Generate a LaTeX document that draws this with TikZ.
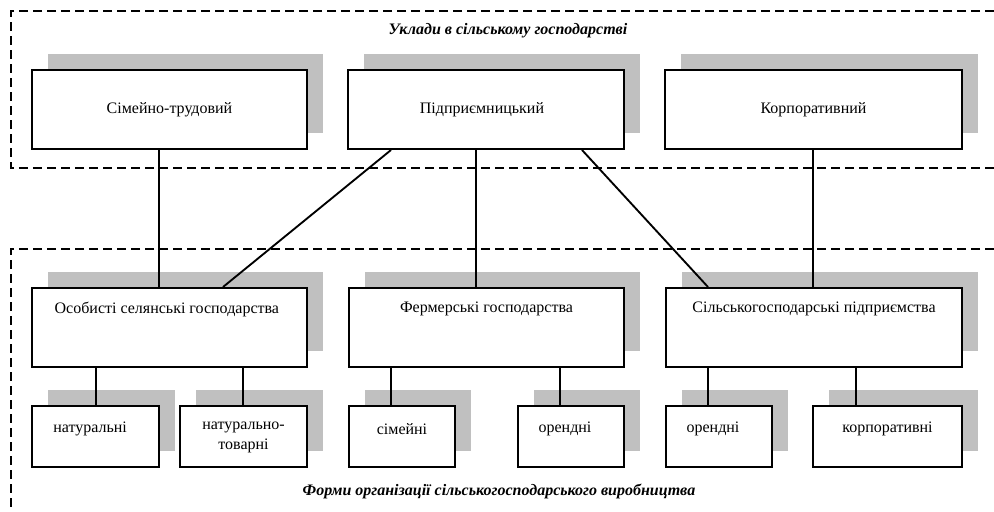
\documentclass[tikz,border=0pt]{standalone}
\usepackage{fontspec}
\setmainfont{Liberation Serif}
\usetikzlibrary{shadows,calc}
\definecolor{shade}{HTML}{C0C0C0}
\begin{document}
\begin{tikzpicture}[x=0.75pt,y=-0.75pt,
  font=\fontsize{12}{15}\selectfont,
  box/.style={draw, line width=1.5pt, fill=white, inner sep=0pt, align=center,
    drop shadow={shadow xshift=12pt, shadow yshift=12pt, fill=shade, opacity=1, draw=none}},
  bigbox/.style={box, minimum height=59.25pt},
  smallbox/.style={box, minimum height=45.75pt},
  lbl/.style={anchor=center, align=center, inner sep=0pt},
  conn/.style={line width=1.4pt},
  frame/.style={line width=1.4pt, dash pattern=on 6.5pt off 4pt},
  title/.style={font=\fontsize{12}{15}\selectfont\bfseries\itshape, inner sep=0pt}]
\useasboundingbox (0,0) rectangle (994,511);

% dashed frames
\draw[frame] (994,11) -- (11,11) -- (11,168) -- (994,168);
\draw[frame] (994,249) -- (11,249) -- (11,515);

% titles
\node[title] (tt) at (508,31) {Уклади в сільському господарстві};
\node[title] (bt) at (499,491) {Форми організації сільськогосподарського виробництва};

% top boxes
\node[bigbox, minimum width=206.25pt] (t1) at (169.5,109.5) {Сімейно-трудовий};
\node[bigbox, minimum width=207pt] (t2) at (486,109.5) {\hspace*{-6pt}Підприємницький};
\node[bigbox, minimum width=222.75pt] (t3) at (813.5,109.5) {Корпоративний};

% lower boxes
\node[bigbox, minimum width=206.25pt,
  label={[lbl, yshift=-16.5pt, xshift=-2pt]north:Особисті селянські господарства}] (l1) at (169.5,327.5) {};
\node[bigbox, minimum width=206.25pt,
  label={[lbl, yshift=-16.5pt]north:Фермерські господарства}] (l2) at (486.5,327.5) {};
\node[bigbox, minimum width=222pt,
  label={[lbl, yshift=-16.5pt]north:Сільськогосподарські підприємства}] (l3) at (814,327.5) {};

% small boxes
\node[smallbox, minimum width=95.25pt,
  label={[lbl, yshift=-18pt, xshift=-4pt]north:натуральні}] (s1) at (95.5,436.5) {};
\node[smallbox, minimum width=95.25pt,
  label={[lbl, yshift=-24pt]north:натурально-\\товарні}] (s2) at (243.5,436.5) {};
\node[smallbox, minimum width=79.5pt,
  label={[lbl, yshift=-18pt]north:сімейні}] (s3) at (402,436.5) {};
\node[smallbox, minimum width=79.5pt,
  label={[lbl, yshift=-18pt, xshift=-4.5pt]north:орендні}] (s4) at (571,436.5) {};
\node[smallbox, minimum width=79.5pt,
  label={[lbl, yshift=-18pt, xshift=-4.5pt]north:орендні}] (s5) at (719,436.5) {};
\node[smallbox, minimum width=111.75pt,
  label={[lbl, yshift=-18pt]north:корпоративні}] (s6) at (887.5,436.5) {};

% connectors top -> lower
\coordinate (a1) at ($(t1.south)+(-10.5,0)$);
\draw[conn] (a1) -- (a1 |- l1.north);
\draw[conn] ($(t2.south)+(-95,0)$) -- ($(l1.north)+(53.5,0)$);
\coordinate (a2) at ($(t2.south)+(-10,0)$);
\draw[conn] (a2) -- (a2 |- l2.north);
\draw[conn] ($(t2.south)+(96,0)$) -- ($(l3.north)+(-106,0)$);
\coordinate (a3) at ($(t3.south)+(-0.5,0)$);
\draw[conn] (a3) -- (a3 |- l3.north);

% connectors lower -> small
\coordinate (b1) at ($(s1.north)+(0.5,0)$);
\draw[conn] (b1) -- (b1 |- l1.south);
\coordinate (b2) at ($(s2.north)+(-0.5,0)$);
\draw[conn] (b2) -- (b2 |- l1.south);
\coordinate (b3) at ($(s3.north)+(-11,0)$);
\draw[conn] (b3) -- (b3 |- l2.south);
\coordinate (b4) at ($(s4.north)+(-11,0)$);
\draw[conn] (b4) -- (b4 |- l2.south);
\coordinate (b5) at ($(s5.north)+(-11,0)$);
\draw[conn] (b5) -- (b5 |- l3.south);
\coordinate (b6) at ($(s6.north)+(-31.5,0)$);
\draw[conn] (b6) -- (b6 |- l3.south);
\end{tikzpicture}
\end{document}
